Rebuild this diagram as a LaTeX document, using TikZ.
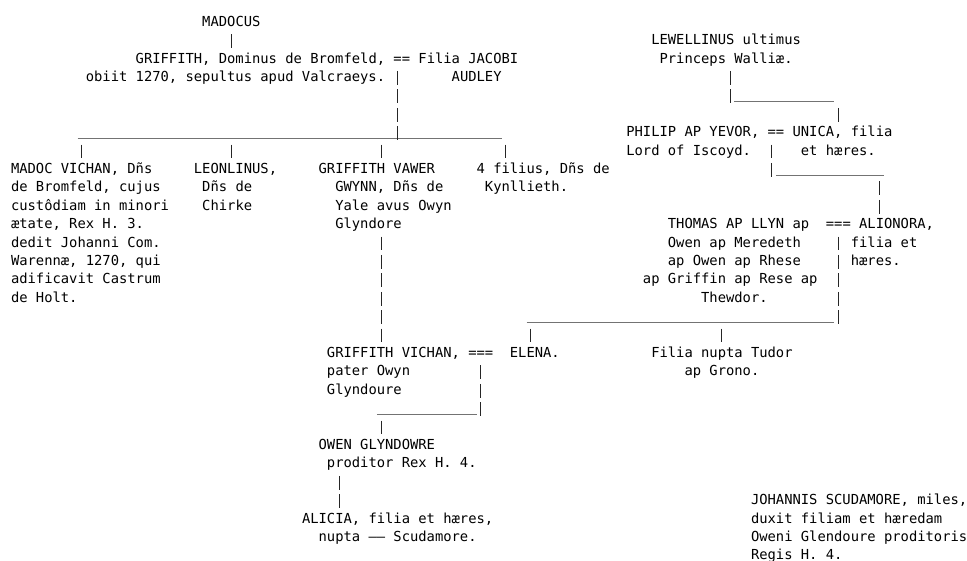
\documentclass[tikz,border=0pt]{standalone}
\usepackage{fontspec}
\usepackage{tikz}
\newfontfamily\pedfont{DejaVu Sans Mono}
\newlength\chw
\setlength\chw{8.315pt}
\newcommand\indentby[1]{\hspace*{#1\chw}}
\newcommand\leftlines[1]{\vtop{\halign{##\hfil\cr#1\crcr}}}
\newcommand\midlines[1]{\vtop{\halign{\hfil##\hfil\cr#1\crcr}}}
\newcommand\rightlines[1]{\vtop{\halign{\hfil##\cr#1\crcr}}}
\tikzset{
  txt/.style={anchor=base west, inner sep=0pt, outer sep=0pt,
    font=\pedfont\fontsize{13.81pt}{18.4pt}\selectfont\frenchspacing},
  pipe/.style={draw=black!85, line width=1pt, dash pattern=on 13.76pt off 4.64pt,
    shorten <=7.9pt, shorten >=15.14pt},
  tobar/.style={shorten >=-3.26pt},
  bar/.style={draw=black!55, line width=0.9pt, transform canvas={yshift=-2pt}}
}
\begin{document}
\begin{tikzpicture}[x=8.315pt, y=-18.4pt]
        \useasboundingbox (-1.3229,-1.4293) rectangle (114.973,29.0598);
        \node[txt] (madocus) at (23,0) {MADOCUS};
        \node[txt] (griffith) at (9,2) {\rightlines{GRIFFITH, Dominus de Bromfeld,\cr obiit 1270, sepultus apud Valcraeys.}};
        \node[txt] (eq1) at (46,2) {==};
        \node[txt] (jacobi) at (49,2) {\leftlines{Filia JACOBI\cr\indentby{4}AUDLEY}};
        \node[txt] (madocv) at (0,8) {\leftlines{MADOC VICHAN, Dñs\cr de Bromfeld, cujus\cr custôdiam in minori\cr ætate, Rex H. 3.\cr dedit Johanni Com.\cr Warennæ, 1270, qui\cr adificavit Castrum\cr de Holt.}};
        \node[txt] (leonl) at (22,8) {\leftlines{LEONLINUS,\cr\indentby{1}Dñs de\cr\indentby{1}Chirke}};
        \node[txt] (griffv) at (37,8) {\leftlines{GRIFFITH VAWER\cr\indentby{2}GWYNN, Dñs de\cr\indentby{2}Yale avus Owyn\cr\indentby{2}Glyndore}};
        \node[txt] (filius) at (56,8) {\leftlines{4 filius, Dñs de\cr\indentby{1}Kynllieth.}};
        \node[txt] (griffvi) at (38,18) {\leftlines{GRIFFITH VICHAN,\cr pater Owyn\cr Glyndoure}};
        \node[txt] (eq3) at (55,18) {===};
        \node[txt] (elena) at (60,18) {ELENA.};
        \node[txt] (filia) at (77,18) {\midlines{Filia nupta Tudor\cr ap Grono.}};
        \node[txt] (owen) at (37,23) {\leftlines{OWEN GLYNDOWRE\cr\indentby{1}proditor Rex H. 4.}};
        \node[txt] (alicia) at (35,27) {\leftlines{ALICIA, filia et hæres,\cr\indentby{2}nupta —— Scudamore.}};
        \node[txt] (lewel) at (77,1) {\midlines{LEWELLINUS ultimus\cr Princeps Walliæ.}};
        \node[txt] (philip) at (74,6) {\leftlines{PHILIP AP YEVOR,\cr Lord of Iscoyd.}};
        \node[txt] (eq2) at (91,6) {==};
        \node[txt] (unica) at (94,6) {\leftlines{UNICA, filia\cr\indentby{1}et hæres.}};
        \node[txt] (thomas) at (76,11) {\leftlines{\indentby{3}THOMAS AP LLYN ap\cr\indentby{3}Owen ap Meredeth\cr\indentby{3}ap Owen ap Rhese\cr ap Griffin ap Rese ap\cr\indentby{7}Thewdor.}};
        \node[txt] (eq4) at (98,11) {===};
        \node[txt] (alionora) at (101,11) {\leftlines{\indentby{1}ALIONORA,\cr filia et\cr hæres.}};
        \node[txt] (johannis) at (89,26) {\leftlines{JOHANNIS SCUDAMORE, miles,\cr duxit filiam et hæredam\cr Oweni Glendoure proditoris\cr Regis H. 4.}};
        \coordinate (b1w) at (8,6); \coordinate (b1e) at (59,6);
        \coordinate (b3w) at (44,21); \coordinate (b3e) at (56,21);
        \coordinate (b4w) at (87,4); \coordinate (b4e) at (99,4);
        \coordinate (b5w) at (92,8); \coordinate (b5e) at (105,8);
        \coordinate (b6w) at (62,16); \coordinate (b6e) at (99,16);
        \draw[bar] (b1w)--(b1e); \draw[bar] (b3w)--(b3e); \draw[bar] (b4w)--(b4e);
        \draw[bar] (b5w)--(b5e); \draw[bar] (b6w)--(b6e);
        \coordinate (pA) at ([shift={(3.5,0)}]madocus.base west);
        \draw[pipe] (pA)--(pA |- griffith.base);
        \coordinate (pB) at ([shift={(0.5,0)}]eq1.base west);
        \draw[pipe,tobar] (pB)--(pB |- b1w);
        \foreach \c/\kid in {8.5/madocv, 26.5/leonl, 44.5/griffv, 59.5/filius}{
          \coordinate (drop) at (\c,6);
          \draw[pipe] (drop)--(drop |- \kid.base);
        }
        \coordinate (pD) at ([shift={(7.5,3)}]griffv.base west);
        \draw[pipe] (pD)--(pD |- griffvi.base);
        \coordinate (pE) at ([shift={(1.5,0)}]eq3.base west);
        \draw[pipe,tobar] (pE)--(pE |- b3w);
        \coordinate (pF) at (44.5,21);
        \draw[pipe] (pF)--(pF |- owen.base);
        \coordinate (pG) at ([shift={(2.5,1)}]owen.base west);
        \draw[pipe] (pG)--(pG |- alicia.base);
        \coordinate (pH) at ([shift={(9.5,1)}]lewel.base west);
        \draw[pipe,tobar] (pH)--(pH |- b4w);
        \coordinate (pI) at (99.5,4);
        \draw[pipe] (pI)--(pI |- unica.base);
        \coordinate (pJ) at ([shift={(0.5,0)}]eq2.base west);
        \draw[pipe,tobar] (pJ)--(pJ |- b5w);
        \coordinate (pK) at (104.5,8);
        \draw[pipe] (pK)--(pK |- alionora.base);
        \coordinate (pL) at ([shift={(1.5,0)}]eq4.base west);
        \draw[pipe,tobar] (pL)--(pL |- b6w);
        \foreach \c/\kid in {62.5/elena, 85.5/filia}{
          \coordinate (drop) at (\c,16);
          \draw[pipe] (drop)--(drop |- \kid.base);
        }
      \end{tikzpicture}
\end{document}
